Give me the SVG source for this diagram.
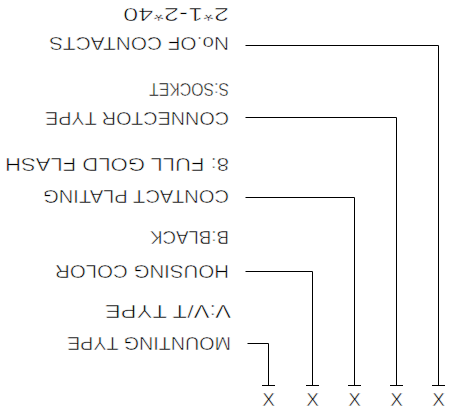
<svg xmlns="http://www.w3.org/2000/svg" width="450" height="414" viewBox="0 0 450 414">
<style>
text{font-family:"Liberation Sans",Arial,sans-serif;font-size:17.5px;fill:#000;stroke:#fff;stroke-width:0.5px}
text.x{font-size:19px}
.ln{fill:none;stroke:#000;stroke-width:1}
</style>
<rect width="450" height="414" fill="#fff"/>
<g id="connectors">
<path class="ln" d="M245.5 45.5H438.5V385"/>
<path class="ln" d="M245.5 117.5H396.5V385"/>
<path class="ln" d="M245.5 197.5H354.5V385"/>
<path class="ln" d="M245.5 271.5H312.5V385"/>
<path class="ln" d="M247.5 343.5H268.5V385"/>
<path class="ln" d="M262 385.5H275M306 385.5H319M348 385.5H361M390 385.5H403M432 385.5H445"/>
</g>
<g id="n-contacts">
<text x="229" y="8" transform="rotate(180 229 8)" textLength="106" lengthAdjust="spacingAndGlyphs">2*1-2*40</text>
<text x="229" y="37" transform="rotate(180 229 37)" textLength="180" lengthAdjust="spacingAndGlyphs">No.OF CONTACTS</text>
</g>
<g id="n-connector">
<text x="229" y="83" transform="rotate(180 229 83)" textLength="80" lengthAdjust="spacingAndGlyphs">S:SOCKET</text>
<text x="229" y="112" transform="rotate(180 229 112)" textLength="184" lengthAdjust="spacingAndGlyphs">CONNECTOR TYPE</text>
</g>
<g id="n-plating">
<text x="229" y="158" transform="rotate(180 229 158)" textLength="224" lengthAdjust="spacingAndGlyphs">8: FULL GOLD FLASH</text>
<text x="229" y="190" transform="rotate(180 229 190)" textLength="186" lengthAdjust="spacingAndGlyphs">CONTACT PLATING</text>
</g>
<g id="n-housing">
<text x="229" y="231" transform="rotate(180 229 231)" textLength="79" lengthAdjust="spacingAndGlyphs">B:BLACK</text>
<text x="229" y="265" transform="rotate(180 229 265)" textLength="174" lengthAdjust="spacingAndGlyphs">HOUSING COLOR</text>
</g>
<g id="n-mounting">
<text x="231" y="305" transform="rotate(180 231 305)" textLength="126" lengthAdjust="spacingAndGlyphs">V:V/T TYPE</text>
<text x="231" y="337" transform="rotate(180 231 337)" textLength="164" lengthAdjust="spacingAndGlyphs">MOUNTING TYPE</text>
</g>
<g id="n-x">
<text class="x" x="268.5" y="406" text-anchor="middle">X</text>
<text class="x" x="312.5" y="406" text-anchor="middle">X</text>
<text class="x" x="354.5" y="406" text-anchor="middle">X</text>
<text class="x" x="396.5" y="406" text-anchor="middle">X</text>
<text class="x" x="438.5" y="406" text-anchor="middle">X</text>
</g>
</svg>
